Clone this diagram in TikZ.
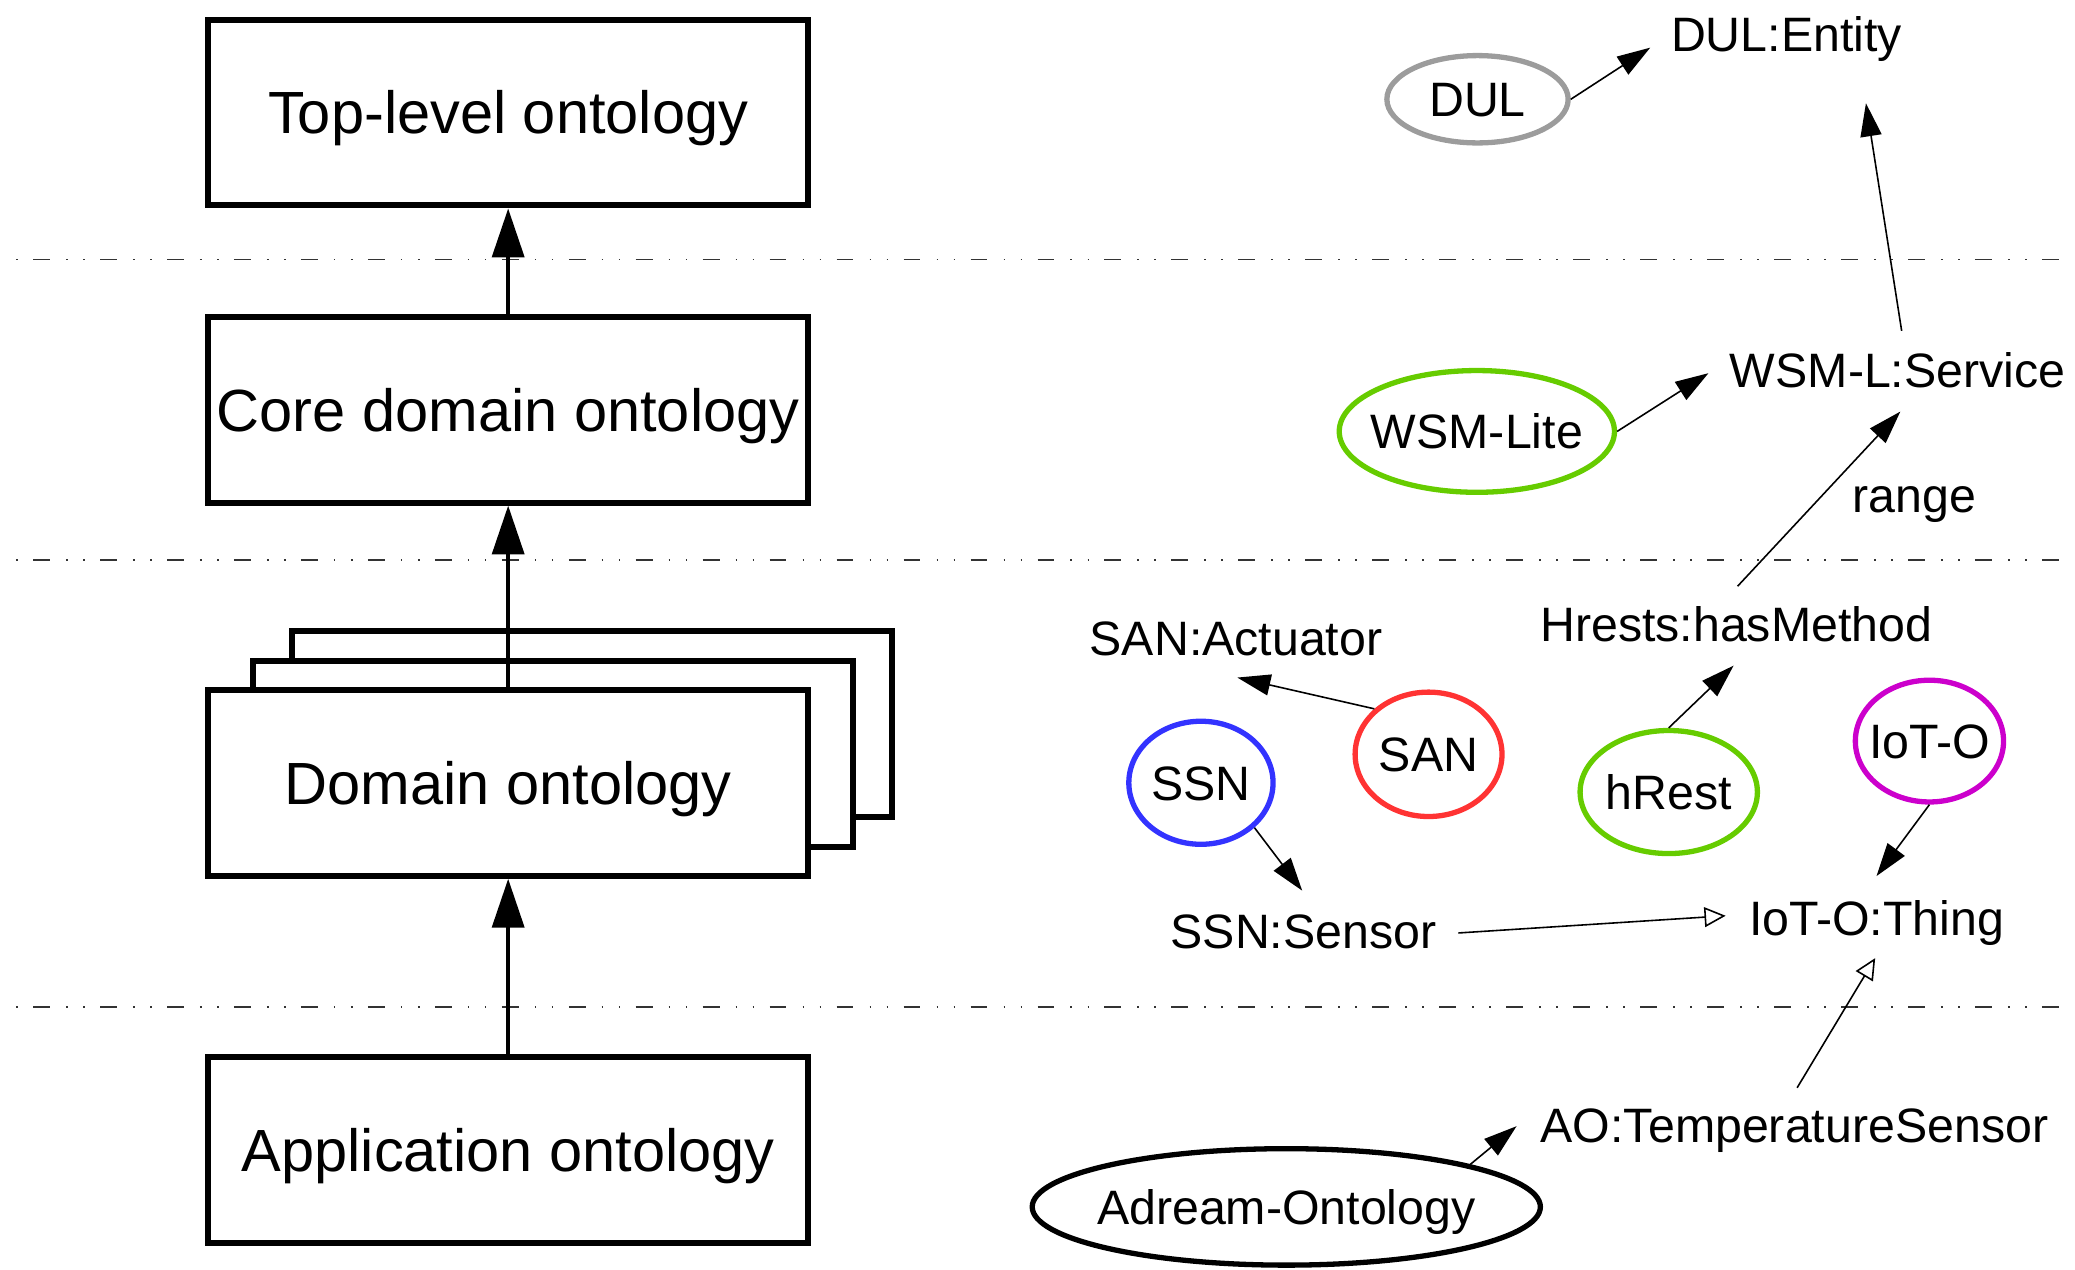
\documentclass[tikz,border=0pt]{standalone}
\usepackage{fontspec}
\setmainfont{Liberation Sans}
\usetikzlibrary{arrows.meta,shapes.geometric,calc}

\definecolor{dulgray}{HTML}{9C9C9C}
\definecolor{limegreen}{HTML}{66CC00}
\definecolor{ssnblue}{HTML}{3333FF}
\definecolor{sanred}{HTML}{FF3333}
\definecolor{iotmagenta}{HTML}{CC00CC}
\definecolor{layerline}{HTML}{333333}

\begin{document}
\begin{tikzpicture}[x=1pt,y=-1pt,
  layerbox/.style={draw, line width=4.5pt, fill=white, minimum width=453.5pt,
    minimum height=140.5pt, inner sep=0pt, text height=42pt, text depth=9.5pt,
    font=\fontsize{45}{54}\selectfont},
  levelarrow/.style={line width=3.5pt, -{Triangle[length=37pt,width=24pt]}},
  onto/.style={ellipse, draw, line width=4pt, inner sep=-15pt,
    text height=26.1pt, text depth=0pt, font=\fontsize{36.5}{44}\selectfont},
  term/.style={inner sep=0pt, text height=26.1pt, text depth=0pt,
    font=\fontsize{36.5}{44}\selectfont},
  link/.style={line width=1.2pt, -{Triangle[length=25pt,width=16pt]}},
  subclass/.style={line width=1.2pt, -{Triangle[open,length=16pt,width=15pt,fill=white]}},
  separator/.style={layerline, line width=1.2pt,
    dash pattern=on 1.2pt off 11.6pt on 12.7pt off 12.2pt on 1.2pt off 11.7pt},
]
\useasboundingbox (0,0) rectangle (1568,959);

% layer separators
\foreach \yy in {196,423,761}
  \draw[separator] (12.2,\yy) -- (1560,\yy);

% ontology layers
\node[layerbox] (top) at (384,85) {Top-level ontology};
\node[layerbox] (core) at (384,309.5) {Core domain ontology};
\node[layerbox] (domback) at (447.5,547) {};
\node[layerbox] (dommid) at (418,569.5) {};
\node[layerbox] (dom) at (384,591.5) {Domain ontology};
\node[layerbox] (app) at (384,869) {Application ontology};

\draw[levelarrow] (core.north) -- (top.south);
\draw[levelarrow] (dom.north) -- (core.south);
\draw[levelarrow] (app.north) -- (dom.south);

% ontologies
\node[onto, draw=dulgray, minimum width=137pt, minimum height=66pt] (dul) at (1116.5,75) {DUL};
\node[onto, draw=limegreen, minimum width=208pt, minimum height=92pt] (wsml) at (1116,326) {WSM-Lite};
\node[onto, draw=ssnblue, minimum width=109pt, minimum height=93pt] (ssn) at (907.5,591.5) {SSN};
\node[onto, draw=sanred, minimum width=111pt, minimum height=94pt] (san) at (1079.5,570) {SAN};
\node[onto, draw=limegreen, minimum width=134pt, minimum height=93pt] (hrest) at (1261,598.5) {hRest};
\node[onto, draw=iotmagenta, minimum width=112pt, minimum height=92pt] (ioto) at (1458,560) {IoT-O};
\node[onto, draw=black, minimum width=384pt, minimum height=88pt] (adream) at (972,912) {Adream-Ontology};

% terms
\node[term] (dulent) at (1350,26) {DUL:Entity};
\node[term] (wsmserv) at (1434,280) {WSM-L:Service};
\node[term] (hasmeth) at (1312,472) {Hrests:hasMethod};
\node[term] (sanact) at (934,482) {SAN:Actuator};
\node[term] (ssnsens) at (985,704) {SSN:Sensor};
\node[term] (iotthing) at (1418,694) {IoT-O:Thing};
\node[term] (aots) at (1356,850) {AO:TemperatureSensor};

% relations
\draw[link] (dul.east) -- ($(dulent)+(-103,10)$);
\draw[link] ($(wsmserv)+(3,-30)$) -- ($(dulent)+(60,52)$);
\draw[link] (wsml.east) -- ($(wsmserv)+(-143,2)$);
\draw[link] ($(hasmeth)+(1,-29)$) -- node[term, pos=0.5, right=25pt, yshift=3pt] {range} ($(wsmserv)+(2,31)$);
\draw[link] (hrest.north) -- ($(hasmeth)+(-2,31)$);
\draw[link] (san.140) -- ($(sanact)+(1,30)$);
\draw[link] (ssn.-40) -- ($(ssnsens)+(-1,-31)$);
\draw[link] (ioto.south) -- ($(iotthing)+(0,-32)$);
\draw[subclass] ($(ssnsens)+(117,1)$) -- ($(iotthing)+(-114,-2)$);
\draw[subclass] ($(aots)+(2,-28)$) -- ($(iotthing)+(-1,30)$);
\draw[link] (adream.13) -- ($(aots)+(-210,1)$);
\end{tikzpicture}
\end{document}
